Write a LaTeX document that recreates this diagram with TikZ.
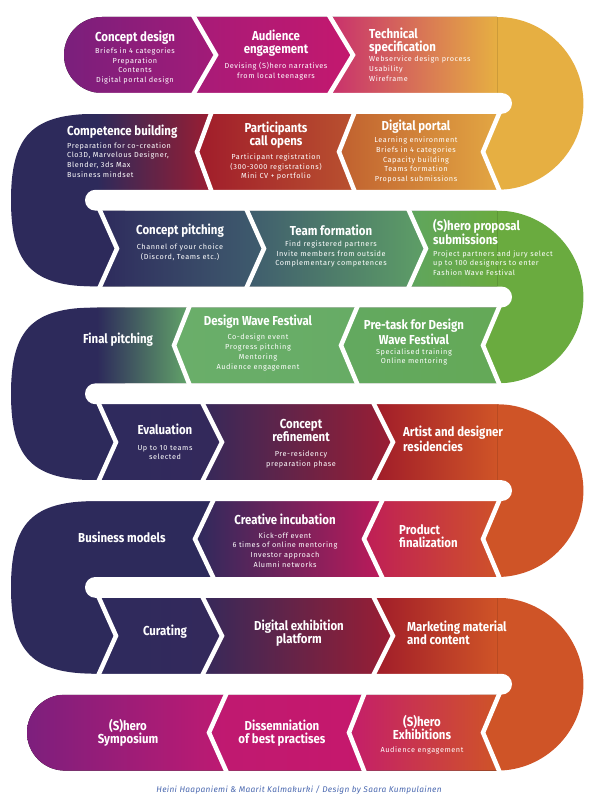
\documentclass[tikz,border=0pt]{standalone}
\usepackage{fontspec}
\setmainfont{Fira Sans}
\newfontfamily\tfont[FakeStretch=0.88]{Fira Sans}
\newfontfamily\bfont[LetterSpace=8]{Fira Sans}
\newfontfamily\ffont[LetterSpace=4]{Fira Sans}
\definecolor{navy}{HTML}{2D2A5B}
\definecolor{yel}{HTML}{E6AF42}
\definecolor{grn}{HTML}{6AAB3F}
\definecolor{org}{HTML}{CF5427}
\definecolor{footblue}{HTML}{4A68B0}
\definecolor{raA}{HTML}{7A1F7C}\definecolor{raB}{HTML}{A31B78}
\definecolor{rbA}{HTML}{A71B78}\definecolor{rbB}{HTML}{C4186E}
\definecolor{rcA}{HTML}{C8306D}\definecolor{rcM}{HTML}{D88064}
\definecolor{qcA}{HTML}{C0602F}\definecolor{qcB}{HTML}{E3A743}
\definecolor{qbA}{HTML}{A01C2B}\definecolor{qbB}{HTML}{B9512F}
\definecolor{qaM}{HTML}{55254F}\definecolor{qaB}{HTML}{9A1D32}
\definecolor{saA}{HTML}{2E2B5D}\definecolor{saB}{HTML}{3F5D6E}
\definecolor{sbA}{HTML}{3F5C6E}\definecolor{sbB}{HTML}{5E9F66}
\definecolor{scA}{HTML}{5FA55E}
\definecolor{ucA}{HTML}{63A960}\definecolor{ucB}{HTML}{64A957}
\definecolor{ubA}{HTML}{6AAE6A}\definecolor{ubB}{HTML}{67AC65}
\definecolor{uaM}{HTML}{3B566A}\definecolor{uaB}{HTML}{62A469}
\definecolor{vaA}{HTML}{2E2A5D}\definecolor{vaB}{HTML}{34295B}
\definecolor{vbA}{HTML}{36295A}\definecolor{vbM}{HTML}{5F2550}\definecolor{vbB}{HTML}{9B1D33}
\definecolor{vcA}{HTML}{A01C29}
\definecolor{wcA}{HTML}{BF1E57}\definecolor{wcB}{HTML}{CF5229}
\definecolor{wbA}{HTML}{2E2A5C}\definecolor{wbM}{HTML}{4F2758}\definecolor{wbB}{HTML}{BC1A5A}
\definecolor{zcA}{HTML}{C41E6A}\definecolor{zcM}{HTML}{CA3A55}
\definecolor{zbA}{HTML}{BF1971}\definecolor{zbB}{HTML}{C6186C}
\definecolor{zaA}{HTML}{7D1F7D}\definecolor{zaB}{HTML}{BE1A72}
\begin{document}
\begin{tikzpicture}[x=1pt,y=-1pt,
  ttl/.style={text=white, inner sep=0pt, font=\tfont\bfseries\fontsize{13}{13}\selectfont, align=center},
  bdy/.style={text=white, inner sep=0pt, font=\bfont\fontsize{7.3}{9.8}\selectfont, align=center},
  lft/.style={align=left, anchor=west},
  sep/.style={draw=white, line width=4.5pt, line join=miter, line cap=rect},
  gapbar/.style={fill=white, rounded corners=10.4pt}]
\useasboundingbox[fill=white] (0,0) rectangle (596,802);
% ---------- turns ----------
\fill[yel] (470,17) -- (497,17) .. controls (544.7,17) and (583.4,55.7) .. (583.4,103.4) .. controls (583.4,151.1) and (544.7,189.8) .. (497,189.8) -- (470,189.8) -- cycle;
\fill[grn] (470,210.6) -- (497,210.6) .. controls (544.7,210.6) and (583.4,249.3) .. (583.4,297) .. controls (583.4,344.7) and (544.7,383.4) .. (497,383.4) -- (470,383.4) -- cycle;
\fill[org] (470,404.2) -- (497,404.2) .. controls (544.7,404.2) and (583.4,442.9) .. (583.4,490.6) .. controls (583.4,538.3) and (544.7,577) .. (497,577) -- (470,577) -- cycle;
\fill[org] (470,597.8) -- (497,597.8) .. controls (544.7,597.8) and (583.4,636.5) .. (583.4,684.2) .. controls (583.4,731.9) and (544.7,770.6) .. (497,770.6) -- (470,770.6) -- cycle;
\fill[navy] (125,113.8) -- (97,113.8) .. controls (32.5,113.8) and (11,135.4) .. (11,200.2) .. controls (11,265) and (32.5,286.6) .. (97,286.6) -- (125,286.6) -- cycle;
\fill[navy] (125,307.4) -- (97,307.4) .. controls (32.5,307.4) and (11,329) .. (11,393.8) .. controls (11,458.6) and (32.5,480.2) .. (97,480.2) -- (125,480.2) -- cycle;
\fill[navy] (125,501) -- (97,501) .. controls (32.5,501) and (11,522.6) .. (11,587.4) .. controls (11,652.2) and (32.5,673.8) .. (97,673.8) -- (125,673.8) -- cycle;
% ---------- row 1 ----------
\fill[left color=raA, right color=raB] (102,93) .. controls (81,93) and (64,76) .. (64,55) .. controls (64,34) and (81,17) .. (102,17) -- (194,17) -- (216,55) -- (194,93) -- cycle;
\fill[left color=rbA, right color=rbB] (194,17) -- (330,17) -- (353,55) -- (330,93) -- (194,93) -- (216,55) -- cycle;
\fill[left color=rcA, middle color=rcM, right color=yel] (330,17) -- (497,17) -- (497,93) -- (330,93) -- (353,55) -- cycle;
% ---------- row 2 ----------
\fill[left color=qcA, right color=qcB] (354,113.8) -- (499,113.8) -- (483,151.8) -- (499,189.8) -- (354,189.8) -- (339,151.8) -- cycle;
\fill[left color=qbA, right color=qbB] (211,113.8) -- (354,113.8) -- (339,151.8) -- (354,189.8) -- (211,189.8) -- (197,151.8) -- cycle;
\fill[left color=navy, middle color=qaM, right color=qaB] (97,113.8) -- (211,113.8) -- (197,151.8) -- (211,189.8) -- (97,189.8) -- cycle;
% ---------- row 3 ----------
\fill[left color=saA, right color=saB] (100,210.6) -- (247,210.6) -- (264,248.6) -- (247,286.6) -- (100,286.6) -- (117,248.6) -- cycle;
\fill[left color=sbA, right color=sbB] (247,210.6) -- (409,210.6) -- (426,248.6) -- (409,286.6) -- (247,286.6) -- (264,248.6) -- cycle;
\fill[left color=scA, right color=grn] (409,210.6) -- (497,210.6) -- (497,286.6) -- (409,286.6) -- (426,248.6) -- cycle;
% ---------- row 4 ----------
\fill[left color=ucA, right color=ucB] (357,307.4) -- (499,307.4) -- (483,345.4) -- (499,383.4) -- (357,383.4) -- (341,345.4) -- cycle;
\fill[left color=ubA, right color=ubB] (189,307.4) -- (357,307.4) -- (341,345.4) -- (357,383.4) -- (189,383.4) -- (174,345.4) -- cycle;
\fill[left color=navy, middle color=uaM, right color=uaB] (97,307.4) -- (189,307.4) -- (174,345.4) -- (189,383.4) -- (97,383.4) -- cycle;
% ---------- row 5 ----------
\fill[left color=vaA, right color=vaB] (99,404.2) -- (203,404.2) -- (222,442.2) -- (203,480.2) -- (99,480.2) -- (116,442.2) -- cycle;
\fill[left color=vbA, middle color=vbM, right color=vbB] (203,404.2) -- (374,404.2) -- (393,442.2) -- (374,480.2) -- (203,480.2) -- (222,442.2) -- cycle;
\fill[left color=vcA, right color=org] (374,404.2) -- (497,404.2) -- (497,480.2) -- (374,480.2) -- (393,442.2) -- cycle;
% ---------- row 6 ----------
\fill[left color=wcA, right color=wcB] (382,501) -- (499,501) -- (483,539) -- (499,577) -- (382,577) -- (364,539) -- cycle;
\fill[left color=wbA, middle color=wbM, right color=wbB] (213,501) -- (382,501) -- (364,539) -- (382,577) -- (213,577) -- (195,539) -- cycle;
\fill[navy] (97,501) -- (213,501) -- (195,539) -- (213,577) -- (97,577) -- cycle;
% ---------- row 7 ----------
\fill[left color=vaA, right color=vaB] (99,597.8) -- (203,597.8) -- (222,635.8) -- (203,673.8) -- (99,673.8) -- (116,635.8) -- cycle;
\fill[left color=vbA, middle color=vbM, right color=vbB] (203,597.8) -- (374,597.8) -- (393,635.8) -- (374,673.8) -- (203,673.8) -- (222,635.8) -- cycle;
\fill[left color=vcA, right color=org] (374,597.8) -- (497,597.8) -- (497,673.8) -- (374,673.8) -- (393,635.8) -- cycle;
% ---------- row 8 ----------
\fill[left color=zcA, middle color=zcM, right color=org] (364,694.6) -- (499,694.6) -- (483,732.6) -- (499,770.6) -- (364,770.6) -- (349,732.6) -- cycle;
\fill[left color=zbA, right color=zbB] (226,694.6) -- (364,694.6) -- (349,732.6) -- (364,770.6) -- (226,770.6) -- (209,732.6) -- cycle;
\fill[left color=zaA, right color=zaB] (65,770.6) .. controls (44,770.6) and (27,753.6) .. (27,732.6) .. controls (27,711.6) and (44,694.6) .. (65,694.6) -- (226,694.6) -- (209,732.6) -- (226,770.6) -- cycle;
% ---------- gaps ----------
\path[gapbar] (-20,93) rectangle (512,113.8);
\path[gapbar] (-20,286.6) rectangle (512,307.4);
\path[gapbar] (-20,480.2) rectangle (512,501);
\path[gapbar] (-20,673.8) rectangle (512,694.6);
\path[gapbar] (85,189.8) rectangle (620,210.6);
\path[gapbar] (85,383.4) rectangle (620,404.2);
\path[gapbar] (85,577) rectangle (620,597.8);
% ---------- separators ----------
\draw[sep] (194,17) -- (216,55) -- (194,93);
\draw[sep] (330,17) -- (353,55) -- (330,93);
\draw[sep] (499,113.8) -- (483,151.8) -- (499,189.8);
\draw[sep] (354,113.8) -- (339,151.8) -- (354,189.8);
\draw[sep] (211,113.8) -- (197,151.8) -- (211,189.8);
\draw[sep] (100,210.6) -- (117,248.6) -- (100,286.6);
\draw[sep] (247,210.6) -- (264,248.6) -- (247,286.6);
\draw[sep] (409,210.6) -- (426,248.6) -- (409,286.6);
\draw[sep] (499,307.4) -- (483,345.4) -- (499,383.4);
\draw[sep] (357,307.4) -- (341,345.4) -- (357,383.4);
\draw[sep] (189,307.4) -- (174,345.4) -- (189,383.4);
\draw[sep] (99,404.2) -- (116,442.2) -- (99,480.2);
\draw[sep] (203,404.2) -- (222,442.2) -- (203,480.2);
\draw[sep] (374,404.2) -- (393,442.2) -- (374,480.2);
\draw[sep] (499,501) -- (483,539) -- (499,577);
\draw[sep] (382,501) -- (364,539) -- (382,577);
\draw[sep] (213,501) -- (195,539) -- (213,577);
\draw[sep] (99,597.8) -- (116,635.8) -- (99,673.8);
\draw[sep] (203,597.8) -- (222,635.8) -- (203,673.8);
\draw[sep] (374,597.8) -- (393,635.8) -- (374,673.8);
\draw[sep] (499,694.6) -- (483,732.6) -- (499,770.6);
\draw[sep] (364,694.6) -- (349,732.6) -- (364,770.6);
\draw[sep] (226,694.6) -- (209,732.6) -- (226,770.6);
% ---------- texts ----------
\node[ttl] (t1a) at (135,38) {Concept design};
\node[bdy] (b1a) at (135,66) {Briefs in 4 categories\\Preparation\\Contents\\Digital portal design};
\node[ttl] (t1b) at (276,43) {Audience\\engagement};
\node[bdy] (b1b) at (276,71) {Devising (S)hero narratives\\from local teenagers};
\node[ttl,lft] (t1c) at (369,41) {Technical\\specification};
\node[bdy,lft] (b1c) at (369,69) {Webservice design process\\Usability\\Wireframe};
\node[ttl,lft] (t2a) at (67,132) {Competence building};
\node[bdy,lft] (b2a) at (67,160) {Preparation for co-creation\\Clo3D, Marvelous Designer,\\Blender, 3ds Max\\Business mindset};
\node[ttl] (t2b) at (276,135) {Participants\\call opens};
\node[bdy] (b2b) at (276,167) {Participant registration\\(300-3000 registrations)\\Mini CV + portfolio};
\node[ttl] (t2c) at (416,127) {Digital portal};
\node[bdy] (b2c) at (416,160) {Learning environment\\Briefs in 4 categories\\Capacity building\\Teams formation\\Proposal submissions};
\node[ttl] (t3a) at (180,231) {Concept pitching};
\node[bdy] (b3a) at (180,252) {Channel of your choice\\(Discord, Teams etc.)};
\node[ttl] (t3b) at (331,230) {Team formation};
\node[bdy] (b3b) at (331,254) {Find registered partners\\Invite members from outside\\Complementary competences};
\node[ttl,lft] (t3c) at (433,232) {(S)hero proposal\\submissions};
\node[bdy,lft] (b3c) at (433,263) {Project partners and jury select\\up to 100 designers to enter\\Fashion Wave Festival};
\node[ttl,lft] (t4a) at (83,340) {Final pitching};
\node[ttl] (t4b) at (258,322) {Design Wave Festival};
\node[bdy] (b4b) at (258,352.5) {Co-design event\\Progress pitching\\Mentoring\\Audience engagement};
\node[ttl] (t4c) at (414,332) {Pre-task for Design\\Wave Festival};
\node[bdy] (b4c) at (414,357) {Specialised training\\Online mentoring};
\node[ttl] (t5a) at (165,429) {Evaluation};
\node[bdy] (b5a) at (165,452.5) {Up to 10 teams\\selected};
\node[ttl] (t5b) at (301,430) {Concept\\refinement};
\node[bdy] (b5b) at (301,459.5) {Pre-residency\\preparation phase};
\node[ttl,lft] (t5c) at (403,439) {Artist and designer\\residencies};
\node[ttl,lft] (t6a) at (78,537) {Business models};
\node[ttl] (t6b) at (285,519) {Creative incubation};
\node[bdy] (b6b) at (285,550) {Kick-off event\\6 times of online mentoring\\Investor approach\\Alumni networks};
\node[ttl,lft] (t6c) at (399,536) {Product\\finalization};
\node[ttl] (t7a) at (165,632) {Curating};
\node[ttl] (t7b) at (299,633) {Digital exhibition\\platform};
\node[ttl,lft] (t7c) at (407,633) {Marketing material\\and content};
\node[ttl] (t8a) at (128,733) {(S)hero\\Symposium};
\node[ttl] (t8b) at (282,733) {Dissemniation\\of best practises};
\node[ttl] (t8c) at (422,728) {(S)hero\\Exhibitions};
\node[bdy] (b8c) at (422,750) {Audience engagement};
\node[text=footblue, inner sep=0pt, font=\ffont\itshape\fontsize{8.3}{9}\selectfont] (foot) at (299,790) {Heini Haapaniemi \& Maarit Kalmakurki / Design by Saara Kumpulainen};
\end{tikzpicture}
\end{document}
